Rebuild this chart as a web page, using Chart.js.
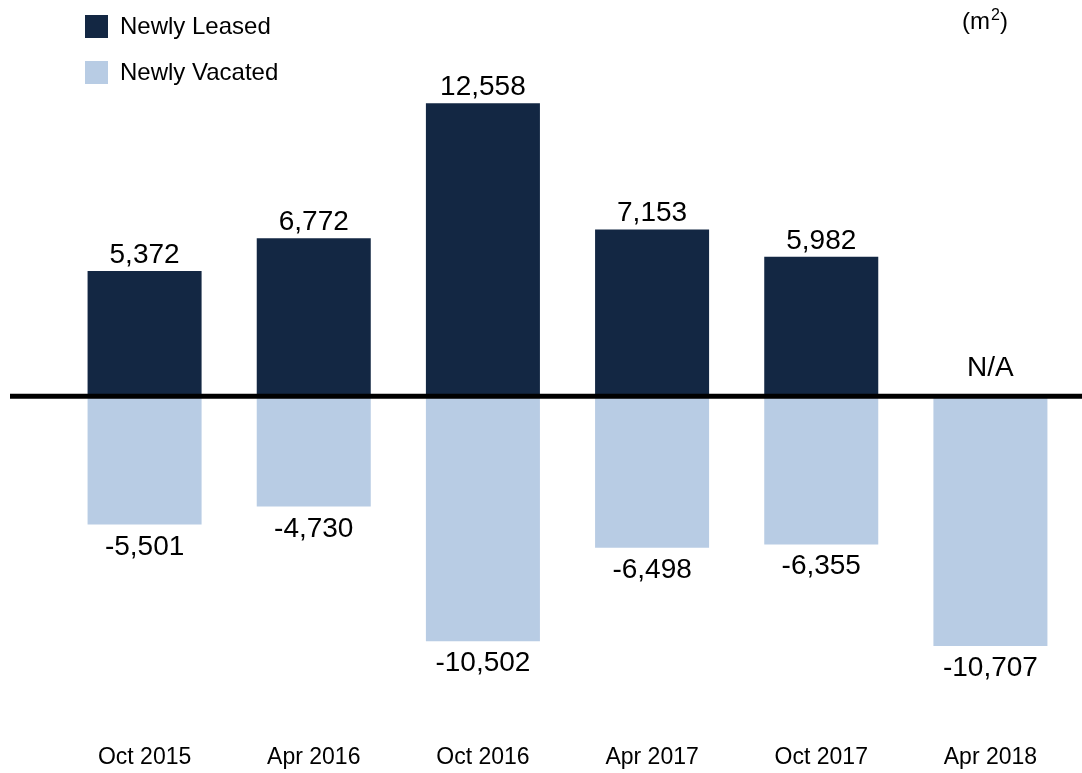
<!DOCTYPE html>
<html>
<head>
<meta charset="utf-8">
<script src="https://cdn.jsdelivr.net/npm/chart.js@4"></script>
<style>
    html, body { margin: 0; padding: 0; background: #ffffff; }
    #wrap { position: relative; width: 1082px; height: 773px; }
</style>
</head>
<body>
<div id="wrap"><canvas id="chart"></canvas></div>
<script>
const periods = ['Oct 2015', 'Apr 2016', 'Oct 2016', 'Apr 2017', 'Oct 2017', 'Apr 2018'];
const newlyLeased = [5372, 6772, 12558, 7153, 5982, null];
const newlyVacated = [-5501, -4730, -10502, -6498, -6355, -10707];
const unitLabel = 'm';
const unitSup = '2';
const missingLabel = 'N/A';

const FONT = '"Liberation Sans", Arial, sans-serif';
const DARK = '#132743';
const LIGHT = '#b8cce4';

const fmt = (v) => new Intl.NumberFormat('en-US').format(v);

// value labels above/below bars, N/A for missing, and the thick zero line
const overlay = {
    id: 'overlay',
    afterDatasetsDraw(chart) {
        const ctx = chart.ctx;
        const y = chart.scales.y;
        const zero = y.getPixelForValue(0);

        ctx.save();
        ctx.fillStyle = '#000';
        ctx.font = '28px ' + FONT;
        ctx.textAlign = 'center';
        ctx.textBaseline = 'alphabetic';

        chart.data.datasets.forEach((ds, di) => {
            const meta = chart.getDatasetMeta(di);
            meta.data.forEach((bar, i) => {
                const v = ds.data[i];
                if (v === null) {
                    ctx.fillText(missingLabel, bar.x, zero - 20);
                    return;
                }
                if (v >= 0) {
                    ctx.fillText(fmt(v), bar.x, bar.y - 8);
                } else {
                    ctx.fillText(fmt(v), bar.x, bar.y + 30);
                }
            });
        });

        // zero line spans nearly the whole canvas
        ctx.strokeStyle = '#000';
        ctx.lineWidth = 5;
        ctx.beginPath();
        ctx.moveTo(10, zero);
        ctx.lineTo(chart.width, zero);
        ctx.stroke();

        // legend
        ctx.textAlign = 'left';
        ctx.textBaseline = 'middle';
        ctx.font = '24px ' + FONT;
        chart.data.datasets.forEach((ds, di) => {
            const top = 15 + di * 46;
            ctx.fillStyle = ds.backgroundColor;
            ctx.fillRect(85, top, 23, 23);
            ctx.fillStyle = '#000';
            ctx.fillText(ds.label, 120, top + 12);
        });

        // unit
        ctx.textBaseline = 'alphabetic';
        let x = 962;
        ctx.font = '24px ' + FONT;
        ctx.fillText('(' + unitLabel, x, 29);
        x += ctx.measureText('(' + unitLabel).width;
        ctx.font = '16px ' + FONT;
        ctx.fillText(unitSup, x + 1, 20);
        x += ctx.measureText(unitSup).width + 1;
        ctx.font = '24px ' + FONT;
        ctx.fillText(')', x, 29);
        ctx.restore();
    }
};

new Chart(document.getElementById('chart'), {
    type: 'bar',
    data: {
        labels: periods,
        datasets: [
            {
                label: 'Newly Leased',
                data: newlyLeased,
                backgroundColor: DARK,
                borderWidth: 0,
            },
            {
                label: 'Newly Vacated',
                data: newlyVacated,
                backgroundColor: LIGHT,
                borderWidth: 0,
            }
        ]
    },
    options: {
        responsive: true,
        maintainAspectRatio: false,
        animation: false,
        layout: {
            padding: { top: 23, left: 60, right: 7, bottom: 0 }
        },
        datasets: {
            bar: {
                categoryPercentage: 1,
                barPercentage: 0.674,
            }
        },
        plugins: {
            legend: { display: false },
            tooltip: { enabled: false },
        },
        scales: {
            x: {
                stacked: true,
                grid: { display: false, drawTicks: false },
                border: { display: false },
                ticks: {
                    color: '#000',
                    padding: 23,
                    font: { family: FONT, size: 23 },
                },
                afterFit(scale) {
                    scale.height = 52.5;
                }
            },
            y: {
                stacked: true,
                display: false,
                min: -13900,
                max: 16000,
            }
        }
    },
    plugins: [overlay]
});
</script>
</body>
</html>
